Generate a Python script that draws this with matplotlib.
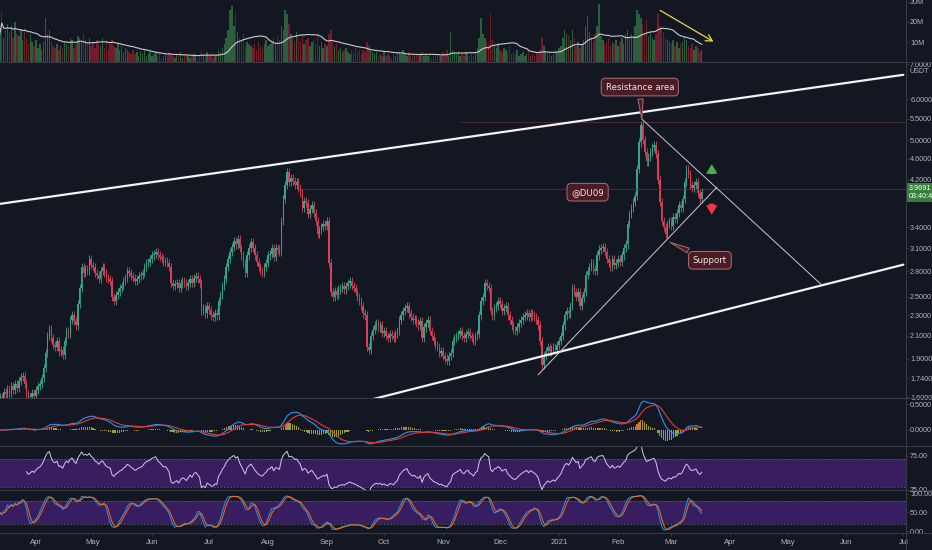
import numpy as np
import pandas as pd
import matplotlib
matplotlib.use('Agg')
import matplotlib.pyplot as plt
import matplotlib.dates as mdates
from matplotlib.ticker import FixedLocator, NullLocator, FuncFormatter

plt.rcParams['font.family'] = ['Liberation Sans', 'DejaVu Sans']

# XTZ/USDT daily closes, 13 Mar 2020 -> 17 Mar 2021
closes = [
    1.60, 1.58, 1.64, 1.62, 1.66, 1.63, 1.68, 1.65, 1.70, 1.67,
    1.72, 1.75, 1.76, 1.70, 1.62, 1.58, 1.60, 1.63, 1.61, 1.65,
    1.68, 1.70, 1.74, 1.82, 1.95, 2.10, 2.17, 2.08, 2.02, 2.00,
    2.05, 1.96, 1.97, 1.93, 2.05, 2.15, 2.12, 2.25, 2.30, 2.24,
    2.20, 2.42, 2.60, 2.85, 2.78, 2.82, 2.80, 2.95, 2.88, 2.85,
    2.78, 2.75, 2.70, 2.80, 2.85, 2.78, 2.72, 2.70, 2.68, 2.50,
    2.45, 2.52, 2.55, 2.60, 2.62, 2.68, 2.72, 2.80, 2.78, 2.74,
    2.72, 2.68, 2.70, 2.74, 2.75, 2.78, 2.85, 2.90, 2.92, 2.95,
    3.00, 3.02, 3.05, 3.00, 2.98, 2.95, 2.92, 2.93, 2.90, 2.85,
    2.66, 2.62, 2.64, 2.66, 2.60, 2.65, 2.68, 2.66, 2.62, 2.66,
    2.70, 2.66, 2.72, 2.74, 2.70, 2.65, 2.35, 2.38, 2.32, 2.40,
    2.36, 2.30, 2.28, 2.32, 2.30, 2.45, 2.52, 2.62, 2.70, 2.85,
    2.95, 3.05, 3.12, 3.20, 3.15, 3.22, 3.10, 3.00, 2.90, 2.78,
    3.00, 3.10, 3.18, 3.10, 3.00, 2.92, 2.85, 2.80, 2.78, 2.85,
    2.90, 3.00, 3.02, 3.10, 2.98, 3.10, 3.08, 3.05, 3.50, 3.85,
    4.10, 4.35, 4.15, 4.22, 4.18, 4.10, 4.15, 4.05, 3.95, 3.70,
    3.82, 3.78, 3.60, 3.68, 3.75, 3.62, 3.50, 3.30, 3.36, 3.40,
    3.45, 3.42, 3.50, 2.90, 2.55, 2.50, 2.56, 2.52, 2.58, 2.60,
    2.62, 2.58, 2.62, 2.65, 2.68, 2.62, 2.60, 2.55, 2.50, 2.45,
    2.40, 2.32, 2.30, 2.00, 1.97, 2.10, 2.16, 2.20, 2.22, 2.18,
    2.20, 2.13, 2.15, 2.10, 2.08, 2.12, 2.10, 2.08, 2.12, 2.15,
    2.25, 2.30, 2.35, 2.38, 2.40, 2.32, 2.28, 2.25, 2.26, 2.22,
    2.20, 2.24, 2.08, 2.18, 2.22, 2.25, 2.15, 2.10, 2.05, 2.02,
    2.00, 1.95, 1.96, 1.92, 1.90, 1.88, 1.92, 1.95, 2.05, 2.08,
    2.10, 2.12, 2.15, 2.10, 2.08, 2.12, 2.14, 2.10, 2.08, 2.05,
    2.10, 2.12, 2.30, 2.45, 2.50, 2.65, 2.62, 2.60, 2.35, 2.30,
    2.38, 2.40, 2.45, 2.42, 2.35, 2.38, 2.40, 2.30, 2.25, 2.20,
    2.16, 2.15, 2.18, 2.22, 2.25, 2.28, 2.30, 2.32, 2.28, 2.32,
    2.30, 2.28, 2.25, 2.20, 2.05, 1.85, 1.92, 1.96, 2.00, 1.96,
    1.98, 2.00, 1.97, 2.02, 2.05, 2.10, 2.20, 2.30, 2.35, 2.32,
    2.40, 2.60, 2.55, 2.50, 2.55, 2.40, 2.48, 2.55, 2.75, 2.80,
    2.85, 2.90, 2.82, 2.80, 3.00, 3.08, 3.10, 3.12, 3.05, 2.95,
    2.90, 2.85, 2.95, 2.88, 2.90, 2.95, 2.92, 3.00, 3.10, 3.15,
    3.45, 3.60, 3.70, 3.80, 3.90, 4.40, 4.95, 5.35, 5.00, 4.75,
    4.55, 4.65, 4.75, 4.85, 4.90, 4.70, 4.20, 3.80, 3.50, 3.40,
    3.30, 3.45, 3.50, 3.42, 3.55, 3.52, 3.62, 3.75, 3.70, 3.85,
    4.15, 4.40, 4.30, 4.10, 4.05, 4.10, 4.15, 3.95, 3.85, 3.9691,
]

# daily volume, millions
volumes = [
    14, 25, 12, 16, 19, 15, 18, 12, 20, 14,
    13, 16, 11, 17, 12, 9, 14, 10, 8, 11,
    7, 9, 6, 10, 22, 14, 16, 10, 8, 7,
    9, 6, 8, 7, 10, 9, 8, 12, 11, 7,
    9, 13, 12, 10, 14, 11, 9, 12, 8, 10,
    7, 11, 9, 8, 12, 7, 10, 6, 9, 11,
    8, 7, 9, 6, 8, 5, 7, 6, 5, 4,
    6, 4, 5, 3, 5, 4, 6, 3, 4, 5,
    3, 4, 5, 3, 4, 2, 3, 4, 3, 5,
    4, 3, 2, 4, 3, 5, 2, 3, 4, 3,
    2, 3, 4, 3, 2, 3, 6, 4, 3, 5,
    3, 4, 2, 3, 4, 6, 5, 7, 9, 12,
    16, 26, 28, 18, 25, 15, 12, 10, 14, 8,
    10, 9, 8, 7, 9, 6, 10, 8, 7, 9,
    11, 8, 9, 10, 12, 9, 13, 11, 18, 16,
    26, 24, 19, 14, 12, 10, 15, 12, 10, 13,
    9, 11, 12, 8, 10, 11, 9, 13, 8, 10,
    7, 9, 8, 14, 16, 10, 8, 9, 6, 7,
    5, 6, 7, 5, 4, 6, 5, 7, 5, 6,
    4, 6, 5, 10, 8, 6, 5, 4, 5, 3,
    4, 3, 5, 3, 4, 3, 2, 4, 3, 4,
    5, 4, 6, 4, 3, 5, 3, 4, 3, 4,
    3, 4, 5, 3, 4, 3, 4, 2, 3, 4,
    3, 4, 3, 5, 4, 6, 3, 15, 6, 5,
    4, 5, 3, 4, 3, 5, 4, 3, 4, 3,
    5, 7, 12, 22, 14, 12, 10, 9, 24, 11,
    8, 7, 9, 6, 5, 7, 6, 5, 8, 4,
    5, 4, 6, 3, 4, 5, 3, 4, 6, 3,
    4, 3, 5, 4, 6, 12, 8, 5, 4, 5,
    3, 4, 6, 5, 7, 8, 12, 16, 14, 13,
    11, 16, 12, 8, 10, 7, 9, 11, 18, 23,
    15, 12, 10, 14, 18, 29, 13, 11, 9, 10,
    12, 8, 10, 9, 11, 8, 10, 12, 9, 14,
    16, 12, 14, 13, 18, 26, 24, 22, 19, 14,
    21, 13, 15, 12, 11, 14, 24, 18, 17, 15,
    12, 11, 10, 9, 11, 8, 10, 7, 9, 10,
    13, 11, 8, 7, 9, 6, 8, 7, 5, 6,
]

start = '2020-03-13'
price_ticks = [1.6, 1.74, 1.9, 2.1, 2.3, 2.5, 2.8, 3.1, 3.4, 4.2, 4.6, 5.0, 5.5, 6.0, 7.0]

# drawn lines: (date, price) endpoints
channel_top = [('2020-03-13', 3.77), ('2021-07-01', 6.68)]
channel_bottom = [('2020-09-24', 1.583), ('2021-07-01', 2.88)]
wedge_top = [('2021-02-13 12:00', 5.49), ('2021-05-19 05:00', 2.63)]
wedge_bottom = [('2020-12-20 22:00', 1.767), ('2021-03-25', 4.06)]
h_rays = [('2020-08-17', 4.03), ('2020-11-10', 5.43)]

BG = '#131722'
TXT = '#b2b5be'
SEP = '#363a45'
UP, DN = '#35a58a', '#d8405a'
VUP, VDN = '#2b5e3c', '#6e1e2b'
BAND = '#381e60'
WICK = 0.018
FS = 5.2
W, H = 932, 550

dates = pd.date_range(start, periods=len(closes), freq='D')
xs = mdates.date2num(dates)
close = pd.Series(closes, dtype=float)
openp = close.shift(1).fillna(close.iloc[0])
high = np.maximum(openp, close) * (1 + WICK)
low = np.minimum(openp, close) * (1 - WICK)
up = (close >= openp).values

# indicators
ema12 = close.ewm(span=12, adjust=False).mean()
ema26 = close.ewm(span=26, adjust=False).mean()
macd = ema12 - ema26
signal = macd.ewm(span=9, adjust=False).mean()
hist = macd - signal


def rma(s, n):
    out = np.full(len(s), np.nan)
    v = s.values
    out[n] = v[1:n + 1].mean()
    for i in range(n + 1, len(v)):
        out[i] = (out[i - 1] * (n - 1) + v[i]) / n
    return pd.Series(out)


delta = close.diff()
gain = rma(delta.clip(lower=0), 14)
loss = rma(-delta.clip(upper=0), 14)
rsi = 100 - 100 / (1 + gain / loss)

ll = low.rolling(14, min_periods=1).min()
hh = high.rolling(14, min_periods=1).max()
stoch_k = (100 * (close - ll) / (hh - ll)).rolling(3, min_periods=1).mean()
stoch_d = stoch_k.rolling(3, min_periods=1).mean()

vol = pd.Series(volumes, dtype=float)
vol_ma = vol.rolling(20, min_periods=1).mean()

x0 = mdates.date2num(pd.Timestamp(start)) + 0.07
xlim = (x0, x0 + 906 / 1.902)


def dnum(s):
    return mdates.date2num(pd.Timestamp(s))


fig = plt.figure(figsize=(W / 100, H / 100), dpi=100, facecolor=BG)


def panel(top, bottom):
    ax = fig.add_axes([0, 1 - bottom / H, 906 / W, (bottom - top) / H], facecolor=BG)
    for s in ax.spines.values():
        s.set_visible(False)
    ax.yaxis.tick_right()
    ax.tick_params(axis='y', colors=SEP, labelcolor=TXT, labelsize=FS, length=2, width=0.6, pad=1)
    ax.tick_params(axis='x', bottom=False, labelbottom=False)
    ax.set_xlim(*xlim)
    return ax


ax_v = panel(0, 62)
ax_p = panel(62, 398)
ax_m = panel(398, 446)
ax_r = panel(446, 490)
ax_s = panel(490, 533)

# volume
ax_v.bar(xs, vol, width=0.75, color=np.where(up, VUP, VDN), linewidth=0)
ax_v.plot(xs, vol_ma, color='#c9cbd2', lw=0.8)
ax_v.set_ylim(0, 31)
ax_v.set_yticks([10, 20, 30])
ax_v.yaxis.set_major_formatter(FuncFormatter(lambda v, _: f'{v:.0f}M'))
ax_v.annotate('', xy=(dnum('2021-03-24 10:00'), 9.5), xytext=(dnum('2021-02-21 22:00'), 26.5),
              arrowprops=dict(arrowstyle='->,head_length=0.45,head_width=0.25', color='#e8da4a', lw=0.9))

# price candles
ax_p.set_yscale('log')
for (d, p) in h_rays:
    ax_p.plot([dnum(d), xlim[1]], [p, p], color='#4a2830', lw=0.8)
ax_p.vlines(xs, low, high, colors=np.where(up, UP, DN), lw=0.6)
body = np.maximum(np.abs(close - openp), close * 0.004)
ax_p.bar(xs, body, bottom=np.minimum(openp, close), width=0.75, color=np.where(up, UP, DN), linewidth=0)

for line, lw, col in [(channel_top, 1.6, '#f2f2f2'), (channel_bottom, 1.6, '#f2f2f2'),
                      (wedge_top, 0.7, '#c8c9cf'), (wedge_bottom, 0.7, '#c8c9cf')]:
    ax_p.plot([dnum(d) for d, _ in line], [p for _, p in line], color=col, lw=lw, solid_capstyle='round')

ax_p.set_ylim(1.595, 7.07)
ax_p.yaxis.set_major_locator(FixedLocator(price_ticks))
ax_p.yaxis.set_minor_locator(NullLocator())
ax_p.yaxis.set_major_formatter(FuncFormatter(lambda v, _: f'{v:.4f}'))
ax_p.text(1.004, 0.972, 'USDT', transform=ax_p.transAxes, color=TXT, fontsize=FS, va='center', ha='left')
ax_p.annotate('3.9691\n03:40:42', xy=(1.0, closes[-1]), xycoords=('axes fraction', 'data'),
              xytext=(3, 0), textcoords='offset pixels', ha='left', va='center', fontsize=FS,
              color='#ffffff', linespacing=1.15, zorder=10,
              bbox=dict(boxstyle='square,pad=0.3', fc='#37803b', ec='none'))

box = dict(boxstyle='round,pad=0.5,rounding_size=0.5', fc='#4a1c24', ec='#a0646a', lw=0.8)
wedge = dict(arrowstyle='wedge,tail_width=0.6,shrink_factor=0.5', fc='#4a1c24', ec='#a0646a',
             lw=0.8, shrinkB=0)
lab = dict(ha='center', va='center', fontsize=6.2, color='#f1e4e4', bbox=box, family='DejaVu Sans')
ax_p.annotate('Resistance area', xy=(dnum('2021-02-13 12:00'), 5.49), xytext=(-2, 32),
              textcoords='offset pixels', arrowprops=wedge, **lab)
ax_p.annotate('Support', xy=(dnum('2021-02-28 07:00'), 3.18), xytext=(40, -18),
              textcoords='offset pixels', arrowprops=wedge, **lab)
ax_p.text(dnum('2021-01-16'), 3.97, '@DU09', **lab)

arr = 'simple,head_width=0.55,head_length=0.45,tail_width=0.28'
ax_p.annotate('', xy=(dnum('2021-03-22 07:00'), 4.55), xytext=(dnum('2021-03-22 07:00'), 4.25),
              arrowprops=dict(arrowstyle=arr, fc='#4caf50', ec='none', mutation_scale=15))
ax_p.annotate('', xy=(dnum('2021-03-22 07:00'), 3.55), xytext=(dnum('2021-03-22 07:00'), 3.82),
              arrowprops=dict(arrowstyle=arr, fc='#f23645', ec='none', mutation_scale=15))

# MACD
hcol = np.where((hist >= 0) & (hist.diff() > 0), '#c47a2c', '#a09c38')
ax_m.bar(xs, hist, width=0.6, color=hcol, linewidth=0)
ax_m.plot(xs, macd, color='#2196f3', lw=0.8)
ax_m.plot(xs, signal, color='#e53935', lw=0.8)
ax_m.set_ylim(-0.314, 0.627)
ax_m.set_yticks([0, 0.5])
ax_m.yaxis.set_major_formatter(FuncFormatter(lambda v, _: f'{v:.4f}'))

# RSI
ax_r.axhspan(30, 70, color=BAND, lw=0)
for lvl in (30, 70):
    ax_r.axhline(lvl, color='#5d5f6b', lw=0.6, ls=(0, (2, 2)))
ax_r.plot(xs, rsi, color='#d2c6ec', lw=0.7)
ax_r.set_ylim(25, 89.7)
ax_r.set_yticks([25, 75])
ax_r.yaxis.set_major_formatter(FuncFormatter(lambda v, _: f'{v:.2f}'))

# Stochastic
ax_s.axhspan(20, 80, color=BAND, lw=0)
for lvl in (20, 80):
    ax_s.axhline(lvl, color='#5d5f6b', lw=0.6, ls=(0, (2, 2)))
ax_s.plot(xs, stoch_k, color='#2196f3', lw=0.7)
ax_s.plot(xs, stoch_d, color='#ff6d00', lw=0.7)
ax_s.set_ylim(-5.4, 110.8)
ax_s.set_yticks([0, 50, 100])
ax_s.yaxis.set_major_formatter(FuncFormatter(lambda v, _: f'{v:.2f}'))

months = pd.date_range('2020-04-01', '2021-07-01', freq='MS')
ax_s.set_xticks(mdates.date2num(months))
ax_s.set_xticklabels([str(m.year) if m.month == 1 else m.strftime('%b') for m in months])
ax_s.tick_params(axis='x', bottom=True, labelbottom=True, colors=SEP, labelcolor=TXT,
                 labelsize=5.6, length=2, width=0.6, pad=2)

for y in (62, 398, 446, 490, 533):
    fig.add_artist(plt.Line2D([0, 1], [1 - y / H, 1 - y / H], transform=fig.transFigure, color=SEP, lw=0.8))
fig.add_artist(plt.Line2D([906 / W, 906 / W], [0, 1], transform=fig.transFigure, color=SEP, lw=0.8))

fig.savefig('out.png', dpi=100, facecolor=BG)
